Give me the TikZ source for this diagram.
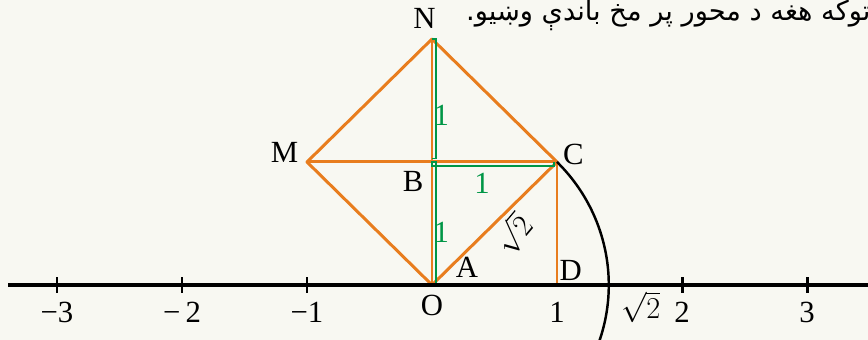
\documentclass[tikz,border=0pt]{standalone}
\usepackage{fontspec}
\setmainfont{Liberation Serif}
\newfontfamily\arabicfont[Script=Arabic]{DejaVu Sans}
\TeXXeTstate=1
\usetikzlibrary{positioning}
\definecolor{paper}{RGB}{248,248,242}
\definecolor{sideorange}{RGB}{232,125,30}
\definecolor{markgreen}{RGB}{0,150,70}
\tikzset{
  axisline/.style={black, line width=2.2pt},
  axistick/.style={black, line width=1.7pt},
  side/.style={sideorange, line width=1.7pt, line join=round},
  arcline/.style={black, line width=1.4pt},
  unitmark/.style={markgreen, line width=0.8pt},
  lab/.style={font=\fontsize{17.5}{20}\selectfont, inner sep=0pt},
  unitlab/.style={lab, text=markgreen},
}

\begin{document}
\begin{tikzpicture}[x=2.5cm,y=2.46cm]
  \path[use as bounding box, fill=paper] (-3.456,-0.447) rectangle (3.488,2.317);

  % Heading line, cut at the right edge.
  \node[font=\arabicfont\fontsize{15.5}{18}\selectfont, anchor=east, inner sep=0pt] (head) at (3.51,2.19)
    {\beginR توکه هغه د محور پر مخ باندې وښيو.\endR};

  % Points of the square.
  \coordinate (O) at (0,0);
  \coordinate (D) at (1,0);
  \coordinate (B) at (0,1);
  \coordinate (C) at (1,1);
  \coordinate (M) at (-1,1);
  \coordinate (N) at (0,2);
  \coordinate (left) at (-3.39,0);
  \coordinate (right) at (3.6,0);

  % Orange sides and diagonals.
  \draw[side] (O) -- (D);
  \draw[side] (O) -- (C) -- (N) -- (M) -- cycle;
  \draw[side] (O) -- (N);
  \draw[side] (M) -- (C);
  \draw[side] (C) -- (D);

  % Green unit marks.
  \draw[unitmark] (N) -- (0.032,2) -- (0.032,1.03) -- (0,1.03);
  \draw[unitmark] (O) -- (0.032,0) -- (0.032,0.968) -- (0.976,0.968) -- (0.976,1);
  \draw[unitmark] (0,0.968) rectangle (0.032,1);

  % Number line.
  \draw[axisline] (left) -- (right);
  \foreach \t in {-3,-2,-1,2,3}
    \draw[axistick] (\t,-0.065) -- (\t,0.065);
  \draw[arcline] (C) arc[start angle=45, end angle=-20, radius=1.4142];

  % Labels.
  \node[lab] (Nlab) at (-0.06,2.17) {N};
  \node[lab] (Mlab) at (-1.18,1.08) {M};
  \node[lab] (Clab) at (1.13,1.06) {C};
  \node[lab] (Blab) at (-0.15,0.84) {B};
  \node[lab] (Alab) at (0.28,0.14) {A};
  \node[lab] (Dlab) at (1.11,0.12) {D};
  \node[lab] (Olab) at (0,-0.17) {O};
  \node[lab, rotate=50] (diaglab) at (0.65,0.41) {$\sqrt{2}$};
  \node[unitlab] (NBlab) at (0.075,1.38) {1};
  \node[unitlab] (BClab) at (0.4,0.83) {1};
  \node[unitlab] (BOlab) at (0.075,0.43) {1};

  % Axis numbers.
  \foreach \t/\s in {-3/−3,-2/−\,2,-1/−1,1/1,2/2,3/3}
    \node[lab] (num\t) at (\t,-0.22) {\s};
  \node[lab] (rootlab) at (1.67,-0.18) {$\sqrt{2}$};
\end{tikzpicture}
\end{document}
